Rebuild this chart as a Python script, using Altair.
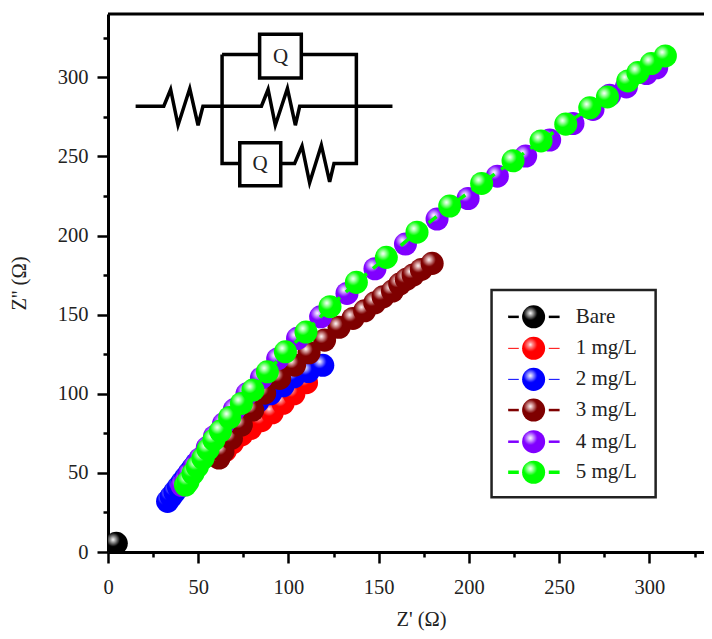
import altair as alt
import pandas as pd

FONT = "Liberation Serif"
TEXT = "#222222"

# ---- measured series (Z', Z'') ----
bare_x = [4.6]
bare_y = [5.5]
red_x = [61.5, 65, 69, 74, 79, 85, 91, 97, 103, 110]
red_y = [60, 64, 69, 74, 78, 83, 88, 94, 100, 107]
blue_x = [33, 35, 37, 39, 41, 43, 45, 47, 49, 52, 55, 60, 66, 72, 77, 83, 90, 97, 103, 111, 119]
blue_y = [32, 35, 38, 41, 44, 47, 50, 53, 56, 59, 63, 70, 77, 84.6, 90, 95, 100, 105, 110.7, 114, 118]
maroon_x = [61.5, 63.7, 68.4, 73.9, 80.2, 86.8, 95.1, 103.4, 111.4, 120, 128, 135.7, 142.2, 147.8, 152.4, 157.6, 161.6, 165.3, 169, 173.6, 179.6]
maroon_y = [59.4, 63.4, 71.8, 80.2, 89.7, 100.4, 109.7, 118.1, 125.9, 133.9, 142, 147.6, 152.4, 157.5, 161.3, 164.9, 169.3, 172.3, 175, 178.6, 182.4]
purple_x = [41, 43, 45, 48, 51, 55, 59, 64, 70, 77, 85, 94, 105, 117.8, 132.4, 147.9, 164.8, 182.3, 199.5, 215.7, 231.4, 244.7, 257.6, 268.7, 277.9, 287.2, 298.3, 304]
purple_y = [42, 45, 49, 54, 59, 66, 73, 81, 90, 100, 110, 122, 135, 148.6, 163.4, 179, 194.6, 210.4, 223.4, 237.5, 250.2, 260.3, 270.8, 279.7, 288.7, 293.9, 302.4, 306]
green_x = [42.9, 44.3, 47.1, 49.5, 52.6, 55.4, 58.7, 62.3, 67.4, 73.9, 80.3, 88.3, 98.3, 109.7, 123, 137.6, 154.2, 171.2, 189.3, 207, 224.4, 239.9, 253.6, 266.9, 276.7, 288, 293.6, 301, 308.8]
green_y = [42.3, 44.4, 49.7, 53.9, 59.2, 64.8, 70.8, 76.4, 85, 93.9, 102.3, 113.9, 126.5, 139, 155, 170.4, 186.2, 202.1, 218.6, 232.9, 247.2, 259.8, 270.4, 280.7, 287.6, 297.7, 303, 308.7, 313.5]

series_names = ["Bare", "1 mg/L", "2 mg/L", "3 mg/L", "4 mg/L", "5 mg/L"]
series_x = [bare_x, red_x, blue_x, maroon_x, purple_x, green_x]
series_y = [bare_y, red_y, blue_y, maroon_y, purple_y, green_y]
colors = ["#000000", "#ff0000", "#0000ff", "#7f0000", "#8000ff", "#00ff00"]
glints = ["#b0b0b0", "#ff9090", "#b0b0ff", "#e0b0b0", "#d8b8ff", "#b8ffb8"]
line_widths = [2.5, 1, 1, 2.5, 2.5, 3.5]

# ---- axes ----
x_major = [0, 50, 100, 150, 200, 250, 300]
y_major = [0, 50, 100, 150, 200, 250, 300]
x_minor = [25, 75, 125, 175, 225, 275, 325]
y_minor = [25, 75, 125, 175, 225, 275, 325]
x_domain = [0, 330.2]
y_domain = [0, 340]

# ---- legend positions, in axis units ----
legend_rows = [148.6, 128.7, 109.1, 89.7, 69.7, 50.4]
legend_box = dict(x=212.5, x2=303.4, y=34.6, y2=165.5)
legend_marker_x = 235.8
legend_dash_left = (221.7, 227.6)
legend_dash_right = (244.2, 250.2)
legend_text_x = 259.1

# ---- equivalent-circuit inset, in axis units ----
zig_main_x = [15.3, 30.9, 34.7, 38.8, 45.3, 49.9, 52.6, 63.2, 85, 88.7, 92.7, 99.4, 103.8, 106.2, 157.6]
zig_main_y = [281.7, 281.7, 292.3, 269.7, 292.9, 269.7, 281.7, 281.7, 281.7, 292.3, 269.7, 292.9, 269.7, 281.7, 281.7]
branch_x = [63.2, 63.2, 73, 95.7, 103.4, 107.5, 111.7, 118.2, 122.8, 125.2, 137.6, 137.6, 107, 84, 63.2]
branch_y = [281.7, 245.5, 245.5, 245.5, 245.5, 256.5, 233.3, 257.1, 233.9, 245.5, 245.5, 314.4, 314.4, 314.4, 314.4]
close_x = [63.2, 63.2]
close_y = [314.4, 281.7]
q_boxes = [dict(x=84, x2=107.1, y=299.6, y2=327.2), dict(x=73, x2=95.7, y=231.4, y2=258.6)]
q_text_x = [95.6, 84.3]
q_text_y = [313, 245]


def X(axis=None):
    return alt.X("x:Q", scale=alt.Scale(domain=x_domain, nice=False, zero=False, padding=0), axis=axis)


def Y(axis=None):
    return alt.Y("y:Q", scale=alt.Scale(domain=y_domain, nice=False, zero=False, padding=0), axis=axis)


def sphere(color, glint):
    return {
        "gradient": "radial",
        "x1": 0.36, "y1": 0.34, "r1": 0,
        "x2": 0.36, "y2": 0.34, "r2": 0.3,
        "stops": [
            {"offset": 0, "color": "#ffffff"},
            {"offset": 0.3, "color": glint},
            {"offset": 1, "color": color},
        ],
    }


layers = []

# axes
axis_base = dict(grid=False, domainColor="black", domainWidth=3, tickColor="black", tickWidth=2.5,
                 labelFont=FONT, labelFontSize=20.5, labelColor=TEXT, titleFont=FONT, titleFontSize=20.5,
                 titleColor=TEXT, titleFontWeight="normal")
axes_df = pd.DataFrame({"x": [0], "y": [0]})
main = alt.Chart(axes_df).mark_point(opacity=0).encode(
    x=X(alt.Axis(orient="bottom", values=x_major, tickSize=11, labelPadding=14, labelFlush=False, title="Z' (Ω)",
                 titleX=313, titleY=57, **axis_base)),
    y=Y(alt.Axis(orient="left", values=y_major, tickSize=11, labelPadding=9, labelFlush=False, title="Z'' (Ω)",
                 titleX=-79, titleY=269, **axis_base)),
)
minor_base = dict(grid=False, domain=False, labels=False, title=None, tickColor="black", tickWidth=2.5, tickSize=5)
minor = alt.Chart(axes_df).mark_point(opacity=0).encode(
    x=X(alt.Axis(orient="bottom", values=x_minor, **minor_base)),
    y=Y(alt.Axis(orient="left", values=y_minor, **minor_base)),
)
layers += [main, minor]
top_line = alt.Chart(pd.DataFrame({"y": [y_domain[1]]})).mark_rule(color="black", strokeWidth=3).encode(y=Y())
layers.append(top_line)

# circuit inset
for xs, ys in [(zig_main_x, zig_main_y), (branch_x, branch_y), (close_x, close_y)]:
    df = pd.DataFrame({"x": xs, "y": ys, "o": range(len(xs))})
    layers.append(alt.Chart(df).mark_line(color="black", strokeWidth=3.5, strokeJoin="miter").encode(x=X(), y=Y(), order="o:Q"))
for b in q_boxes:
    layers.append(alt.Chart(pd.DataFrame([b])).mark_rect(fill="white", stroke="black", strokeWidth=3.5).encode(
        x=X(), x2="x2:Q", y=Y(), y2="y2:Q"))
layers.append(alt.Chart(pd.DataFrame({"x": q_text_x, "y": q_text_y, "t": ["Q", "Q"]})).mark_text(
    font=FONT, fontSize=21, color=TEXT, align="center", baseline="middle").encode(x=X(), y=Y(), text="t:N"))

# series
for name, xs, ys, c, g, w in zip(series_names, series_x, series_y, colors, glints, line_widths):
    df = pd.DataFrame({"x": xs, "y": ys, "o": range(len(xs))})
    layers.append(alt.Chart(df).mark_line(color=c, strokeWidth=w, strokeDash=[10, 8], clip=True).encode(
        x=X(), y=Y(), order="o:Q"))
    layers.append(alt.Chart(df).mark_circle(size=530, opacity=1, fill=sphere(c, g), clip=True).encode(
        x=X(), y=Y(), order="o:Q"))

# legend box
layers.append(alt.Chart(pd.DataFrame([legend_box])).mark_rect(fill="white", stroke="#222222", strokeWidth=2.5).encode(
    x=X(), x2="x2:Q", y=Y(), y2="y2:Q"))
for name, row, c, g, w in zip(series_names, legend_rows, colors, glints, line_widths):
    for a, b in (legend_dash_left, legend_dash_right):
        layers.append(alt.Chart(pd.DataFrame({"x": [a, b], "y": [row, row]})).mark_line(color=c, strokeWidth=w).encode(x=X(), y=Y()))
    layers.append(alt.Chart(pd.DataFrame({"x": [legend_marker_x], "y": [row]})).mark_circle(size=530, opacity=1, fill=sphere(c, g)).encode(x=X(), y=Y()))
    layers.append(alt.Chart(pd.DataFrame({"x": [legend_text_x], "y": [row], "t": [name]})).mark_text(
        font=FONT, fontSize=21, color=TEXT, align="left", baseline="middle").encode(x=X(), y=Y(), text="t:N"))

chart = alt.layer(*layers).resolve_axis(x="independent", y="independent").properties(
    width=596, height=538,
    autosize=alt.AutoSizeParams(type="none"),
    padding={"left": 100, "top": 6, "right": 0, "bottom": 79},
).configure_view(stroke=None)

chart.save("out.html", embed_options={"renderer": "svg", "actions": False})
